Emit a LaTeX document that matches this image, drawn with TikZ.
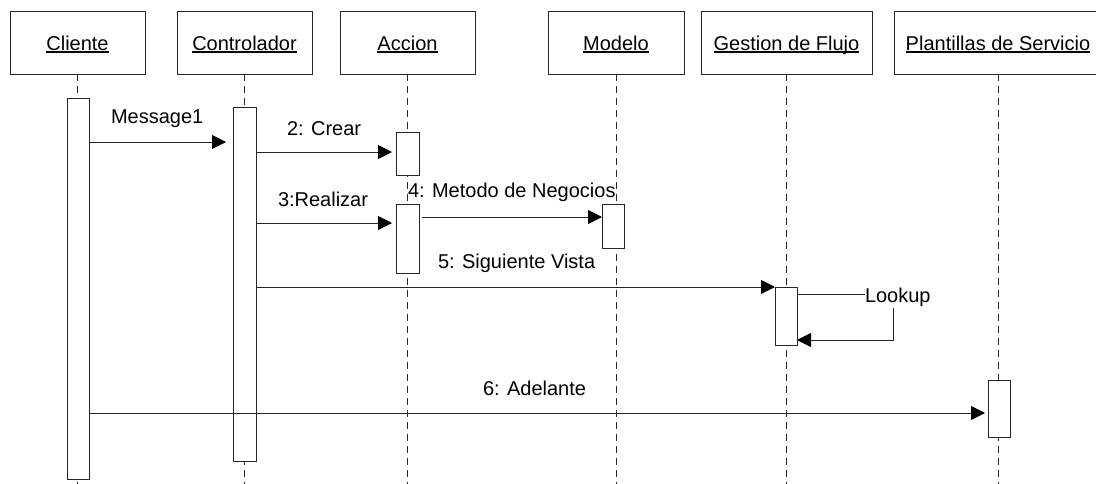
\documentclass[tikz,border=0pt]{standalone}
\usepackage{fontspec}
\setmainfont{Liberation Sans}
\usetikzlibrary{arrows.meta}
\begin{document}
\begin{tikzpicture}[x=1pt,y=-1pt,
  every node/.style={font=\fontsize{20}{24}\selectfont, inner sep=0pt, outer sep=0pt},
  ln/.style={line width=0.9pt, draw=black!85},
  headbox/.style={ln, minimum height=63pt, minimum width=#1},
  headtext/.style={anchor=base},
  ulrule/.style={line width=1.2pt, draw=black},
  act/.style={ln, fill=white, anchor=north west, minimum width=22pt},
  life/.style={ln, dash pattern=on 7pt off 5pt},
  msg/.style={ln, -{Triangle[length=14pt,width=14pt,color=black]}},
  lbl/.style={anchor=base west},
]
\useasboundingbox (0,0) rectangle (1096,483);
\clip (0,0) rectangle (1096,483);

% object heads
\node[headbox=135pt] (hCli) at (77.5,42.5) {};
\node[headbox=135pt] (hCtl) at (244.5,42.5) {};
\node[headbox=135pt] (hAcc) at (407.5,42.5) {};
\node[headbox=136pt] (hMod) at (616,42.5) {};
\node[headbox=171pt] (hGes) at (786.5,42.5) {};
\node[headbox=208pt] (hPla) at (998,42.5) {};

\foreach \h/\t in {hCli/Cliente, hCtl/Controlador, hAcc/Accion, hMod/Modelo,
                   hGes/Gestion de Flujo, hPla/Plantillas de Servicio}{
  \node[headtext] (t\h) at ([yshift=-7.5pt]\h.center) {\t};
  \draw[ulrule] ([yshift=-2pt]t\h.base west) -- ([yshift=-2pt]t\h.base east);
}

% lifelines
\foreach \h in {hCli,hCtl,hAcc,hMod,hGes,hPla}{
  \draw[life] (\h.south) -- (\h.south |- 0,495);
}

% activations
\node[act, minimum height=381pt] (aCli) at (67,98) {};
\node[act, minimum height=354pt, minimum width=23pt] (aCtl) at (233,107) {};
\node[act, minimum height=43pt, minimum width=23pt] (aAcc1) at (396,132) {};
\node[act, minimum height=69pt, minimum width=23pt] (aAcc2) at (396,204) {};
\node[act, minimum height=44pt] (aMod) at (602,204) {};
\node[act, minimum height=58pt] (aGes) at (775,287) {};
\node[act, minimum height=57pt] (aPla) at (988,380) {};

% messages
\draw[msg, shorten >=7pt] (aCli.east |- 0,142) -- (aCtl.west |- 0,142);
\node[lbl] (l1) at (111,123.5) {Message1};

\draw[msg, shorten >=4pt] (aCtl.east |- 0,152) -- (aAcc1.west |- 0,152);
\node[lbl] (l2) at (287,135.5) {2: Crear};

\draw[msg, shorten >=4pt] (aCtl.east |- 0,223) -- (aAcc2.west |- 0,223);
\node[lbl] (l3) at (278,206) {3:Realizar};

\draw[msg, shorten <=3pt] (aAcc2.east |- 0,217) -- (aMod.west |- 0,217);
\node[lbl] (l4) at (408,197) {4: Metodo de Negocios};

\draw[msg] (aCtl.east |- 0,287) -- (aGes.west |- 0,287);
\node[lbl] (l5) at (438,268) {5: Siguiente Vista};

% self call on the flow manager
\node[lbl] (lk) at (865,302) {Lookup};
\draw[ln] (aGes.east |- 0,294) -- (lk.west |- 0,294);
\coordinate (lkc) at (893,308);
\draw[msg] (lkc) |- (aGes.east |- 0,340);

\draw[msg, shorten >=3pt] (aCli.east |- 0,413) -- (aPla.west |- 0,413);
\node[lbl] (l6) at (483,395) {6: Adelante};
\end{tikzpicture}
\end{document}
